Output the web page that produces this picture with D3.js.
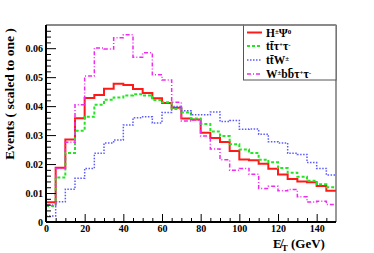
<!DOCTYPE html>
<html lang="en">
<head>
  <meta charset="UTF-8">
  <title>MET distribution</title>
  <script src="https://cdn.jsdelivr.net/npm/d3@7"></script>
  <style>
    body { margin: 0; background: #fff; }
    text { font-family: "Liberation Serif", "Times New Roman", serif; font-weight: bold; }
  </style>
</head>
<body>
<script>
  // bin low edges (GeV), 5 GeV bins
  const binLow = [0, 5, 10, 15, 20, 25, 30, 35, 40, 45, 50, 55, 60, 65, 70, 75, 80, 85, 90, 95, 100, 105, 110, 115, 120, 125, 130, 135, 140, 145];
  const binHigh = 150;

  const hPsi = [0.0068, 0.0187, 0.0285, 0.0358, 0.0428, 0.0438, 0.046, 0.0477, 0.0473, 0.0459, 0.0445, 0.0427, 0.0411, 0.0394, 0.0357, 0.0354, 0.0308, 0.029, 0.0276, 0.0245, 0.0216, 0.0213, 0.0201, 0.0184, 0.0164, 0.0148, 0.014, 0.0137, 0.0124, 0.0108];
  const ttTauTau = [0.0055, 0.0154, 0.0238, 0.0315, 0.0363, 0.0405, 0.0422, 0.043, 0.0437, 0.0441, 0.0437, 0.0421, 0.0413, 0.039, 0.0378, 0.0357, 0.0338, 0.0312, 0.0297, 0.0268, 0.025, 0.0238, 0.0215, 0.0206, 0.0186, 0.017, 0.0156, 0.0142, 0.013, 0.012];
  const ttW = [0.0021, 0.007, 0.0113, 0.0151, 0.0185, 0.0237, 0.0273, 0.0283, 0.0335, 0.036, 0.0363, 0.0342, 0.0378, 0.0399, 0.0384, 0.037, 0.037, 0.038, 0.0347, 0.035, 0.032, 0.0321, 0.0303, 0.0277, 0.0273, 0.0237, 0.0233, 0.0205, 0.0185, 0.0162];
  const wbbTauTau = [0.0059, 0.0185, 0.0275, 0.0405, 0.0504, 0.0601, 0.0597, 0.0636, 0.0646, 0.0569, 0.0584, 0.0508, 0.049, 0.0413, 0.0349, 0.0352, 0.0297, 0.0252, 0.0215, 0.0179, 0.0185, 0.0165, 0.0116, 0.0123, 0.0108, 0.0112, 0.0087, 0.0069, 0.0072, 0.006];

  const xMajor = [0, 20, 40, 60, 80, 100, 120, 140];
  const yMajor = [0, 0.01, 0.02, 0.03, 0.04, 0.05, 0.06];

  const series = [
    {values: hPsi, color: '#ff1a1a', width: 2, dash: null, label: [['H'], ['±', 'sup'], ['Ψ'], ['0', 'sup']]},
    {values: ttTauTau, color: '#22e622', width: 2, dash: '3,2', label: [['tt\u0304τ'], ['+', 'sup'], ['τ'], ['-', 'sup']]},
    {values: ttW, color: '#5c5cff', width: 1.5, dash: '1.5,1.5', label: [['tt\u0304W'], ['±', 'sup']]},
    {values: wbbTauTau, color: '#f02af0', width: 1.5, dash: '4,2,1,2', label: [['W'], ['±', 'sup'], ['bb\u0304τ'], ['+', 'sup'], ['τ'], ['-', 'sup']]}
  ];

  const width = 374;
  const height = 253;
  const margin = {top: 25, right: 38, bottom: 31, left: 46};

  const x = d3.scaleLinear()
    .domain([0, binHigh])
    .range([margin.left, width - margin.right]);

  const y = d3.scaleLinear()
    .domain([0, 0.068])
    .range([height - margin.bottom, margin.top]);

  const svg = d3.select('body').append('svg').attr('width', width).attr('height', height);

  // frame top / right (grey)
  svg.append('line')
    .attr('x1', x(0)).attr('x2', x(binHigh))
    .attr('y1', y(0.068)).attr('y2', y(0.068))
    .attr('stroke', '#8a8a8a').attr('stroke-width', 2);
  svg.append('line')
    .attr('x1', x(binHigh)).attr('x2', x(binHigh))
    .attr('y1', y(0.068)).attr('y2', y(0))
    .attr('stroke', '#555').attr('stroke-width', 1.2);

  // histograms (step)
  const line = d3.line()
    .curve(d3.curveStepAfter)
    .x(d => x(d[0]))
    .y(d => y(d[1]));

  series.forEach(s => {
    const pts = binLow.map((b, i) => [b, s.values[i]]);
    pts.push([binHigh, s.values[s.values.length - 1]]);
    svg.append('path')
      .datum(pts)
      .attr('fill', 'none')
      .attr('stroke', s.color)
      .attr('stroke-width', s.width)
      .attr('stroke-dasharray', s.dash)
      .attr('d', line);
  });

  // axes
  const xAxis = g => g
    .attr('transform', `translate(0,${y(0)})`)
    .call(d3.axisBottom(x).tickValues(binLow.filter(v => xMajor.indexOf(v) < 0)).tickSize(-4).tickFormat(''))
    .call(g => g.select('.domain').remove());
  const xAxisMajor = g => g
    .attr('transform', `translate(0,${y(0)})`)
    .call(d3.axisBottom(x).tickValues(xMajor).tickSize(-8).tickPadding(2.5))
    .call(g => g.select('.domain').attr('stroke-width', 2).attr('d', `M${x(0)},0H${x(binHigh)}`))
    .call(g => g.selectAll('text').style('font-size', '10px').attr('fill', '#000'));

  const yMinor = [];
  for (let i = 0; i < 34; i++) yMinor.push(+(i * 0.002).toFixed(3));

  const yAxis = g => g
    .attr('transform', `translate(${x(0)},0)`)
    .call(d3.axisLeft(y).tickValues(yMinor.filter(v => Math.abs(v * 100 - Math.round(v * 100)) > 1e-6)).tickSize(-5).tickFormat(''))
    .call(g => g.select('.domain').remove());
  const yAxisMajor = g => g
    .attr('transform', `translate(${x(0)},0)`)
    .call(d3.axisLeft(y).tickValues(yMajor).tickSize(-10).tickPadding(3)
      .tickFormat(d => d === 0 ? '0' : d3.format('.2f')(d)))
    .call(g => g.select('.domain').attr('stroke-width', 2).attr('d', `M0,${y(0)}V${y(0.068)}`))
    .call(g => g.selectAll('text').style('font-size', '10px').attr('fill', '#000'));

  svg.append('g').call(xAxis);
  svg.append('g').call(yAxis);
  svg.append('g').call(xAxisMajor);
  svg.append('g').call(yAxisMajor);

  // axis titles
  svg.append('text')
    .attr('transform', `translate(14,94) rotate(-90)`)
    .attr('text-anchor', 'middle')
    .style('font-size', '13.5px')
    .text('Events  ( scaled to one )');

  // missing E_T : E with a slash overlay
  svg.append('text')
    .attr('x', 273).attr('y', 248)
    .style('font-size', '13px')
    .text('E\u0338')
    .append('tspan').attr('dy', 3).style('font-size', '9px').text('T')
    .append('tspan').attr('dy', -3).style('font-size', '13px').text(' (GeV)');

  // legend
  const lg = svg.append('g');
  lg.append('rect')
    .attr('x', 243.5).attr('y', y(0.068))
    .attr('width', x(binHigh) - 243.5).attr('height', 80 - y(0.068))
    .attr('fill', '#fff').attr('stroke', '#555').attr('stroke-width', 1);
  lg.append('line')
    .attr('x1', 243.5).attr('x2', x(binHigh))
    .attr('y1', y(0.068)).attr('y2', y(0.068))
    .attr('stroke', '#8a8a8a').attr('stroke-width', 2);

  const rowY = [32.5, 46, 60, 74];
  series.forEach((s, i) => {
    lg.append('line')
      .attr('x1', 247).attr('x2', 262)
      .attr('y1', rowY[i]).attr('y2', rowY[i])
      .attr('stroke', s.color).attr('stroke-width', s.width)
      .attr('stroke-dasharray', s.dash);
    const t = lg.append('text')
      .attr('x', 266).attr('y', rowY[i] + 4)
      .style('font-size', '11.5px');
    s.label.forEach(p => {
      const sp = t.append('tspan').text(p[0]);
      if (p[1] === 'sup') sp.attr('baseline-shift', '40%').style('font-size', '7px');
    });
  });
</script>
</body>
</html>
